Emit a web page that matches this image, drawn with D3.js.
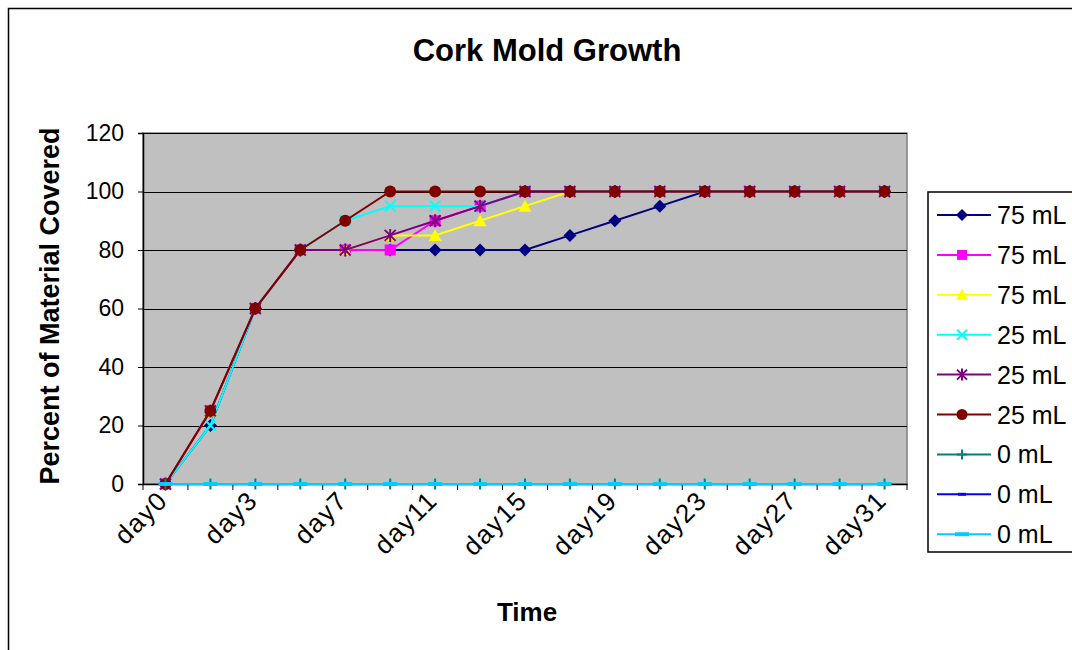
<!DOCTYPE html>
<html><head><meta charset="utf-8">
<script src="https://cdn.jsdelivr.net/npm/d3@7"></script>
<style>body{margin:0;background:#fff;} svg{display:block;font-family:"Liberation Sans",Arial,sans-serif;}</style>
</head><body>
<svg id="c" width="1072" height="650"></svg>
<script>
const categories = ["day0","day1","day3","day5","day7","day9","day11","day13","day15","day17","day19","day21","day23","day25","day27","day29","day31"];
const labelEvery = 2;
const yTicks = [0,20,40,60,80,100,120];
const seriesNames = ["75 mL","75 mL","75 mL","25 mL","25 mL","25 mL","0 mL","0 mL","0 mL"];
const s1 = [0,20,60,80,80,80,80,80,80,85,90,95,100,100,100,100,100];
const s2 = [0,25,60,80,80,80,90,95,100,100,100,100,100,100,100,100,100];
const s3 = [0,25,60,80,80,85,85,90,95,100,100,100,100,100,100,100,100];
const s4 = [0,20,60,80,90,95,95,95,100,100,100,100,100,100,100,100,100];
const s5 = [0,25,60,80,80,85,90,95,100,100,100,100,100,100,100,100,100];
const s6 = [0,25,60,80,90,100,100,100,100,100,100,100,100,100,100,100,100];
const s7 = [0,0,0,0,0,0,0,0,0,0,0,0,0,0,0,0,0];
const s8 = [0,0,0,0,0,0,0,0,0,0,0,0,0,0,0,0,0];
const s9 = [0,0,0,0,0,0,0,0,0,0,0,0,0,0,0,0,0];
const seriesValues = [s1,s2,s3,s4,s5,s6,s7,s8,s9];
const colors = ["#000080","#FF00FF","#FFFF00","#00FFFF","#800080","#800000","#008080","#0000FF","#00CCFF"];
const markers = ["diamond","square","triangle","x","star","circle","plus","dashS","dashL"];

const svg = d3.select("#c");
svg.append("rect").attr("x",8.5).attr("y",8.5).attr("width",1100).attr("height",700)
  .attr("fill","#fff").attr("stroke","#000").attr("stroke-width",1.5);

const L=143, R=907, T=133, B=484;
const x = d3.scaleBand().domain(categories).range([L,R]);
const y = d3.scaleLinear().domain([0,120]).range([B,T]);
const cx = d => x(d)+x.bandwidth()/2;

svg.append("rect").attr("x",L).attr("y",T).attr("width",R-L).attr("height",B-T)
  .attr("fill","#C0C0C0").attr("stroke","#808080").attr("stroke-width",1.5);

svg.append("g").selectAll("line").data(yTicks.filter(v=>v>0)).join("line")
  .attr("x1",L).attr("x2",R).attr("y1",d=>Math.round(y(d))+0.5).attr("y2",d=>Math.round(y(d))+0.5)
  .attr("stroke","#000").attr("stroke-width",1);

const ya = svg.append("g").attr("transform",`translate(${L},0)`)
  .call(d3.axisLeft(y).tickValues(yTicks).tickSize(5).tickPadding(14));
ya.select(".domain").attr("stroke","#000").attr("stroke-width",1.5);
ya.selectAll("text").attr("font-size",23).attr("fill","#000").attr("font-family","Liberation Sans, Arial, sans-serif");

const xa = svg.append("g").attr("transform",`translate(0,${B})`)
  .call(d3.axisBottom(x).tickSize(0).tickFormat(""));
xa.select(".domain").attr("stroke","#000").attr("stroke-width",1.5);
const bounds = categories.map(c=>x(c)).concat([R]);
svg.append("g").selectAll("line").data(bounds).join("line")
  .attr("x1",d=>d).attr("x2",d=>d).attr("y1",B).attr("y2",B+6).attr("stroke","#000");
svg.append("g").selectAll("text").data(categories.filter((c,i)=>i%labelEvery===0)).join("text")
  .attr("transform",d=>`translate(${cx(d)-9},${B+5}) rotate(-45)`)
  .attr("text-anchor","end").attr("dy","0.7em").attr("font-size",26).attr("letter-spacing",1.5).attr("fill","#000").text(d=>d);

function drawMarker(g, type, color, sz){
  const s = sz/2;
  if(type==="diamond") g.append("path").attr("d",`M0,${-s-1}L${s+1},0L0,${s+1}L${-s-1},0Z`).attr("fill",color);
  else if(type==="square") g.append("rect").attr("x",-s).attr("y",-s).attr("width",2*s).attr("height",2*s).attr("fill",color);
  else if(type==="triangle") g.append("path").attr("d",`M0,${-s-1}L${s+1},${s}L${-s-1},${s}Z`).attr("fill",color);
  else if(type==="circle") g.append("circle").attr("r",s+0.5).attr("fill",color);
  else if(type==="x") g.append("path").attr("d",`M${-s},${-s}L${s},${s}M${-s},${s}L${s},${-s}`).attr("stroke",color).attr("stroke-width",2);
  else if(type==="star") g.append("path").attr("d",`M${-s},${-s}L${s},${s}M${-s},${s}L${s},${-s}M0,${-s-1}L0,${s+1}`).attr("stroke",color).attr("stroke-width",2);
  else if(type==="plus") g.append("path").attr("d",`M${-s},0L${s},0M0,${-s}L0,${s}`).attr("stroke",color).attr("stroke-width",2);
  else if(type==="dashS") g.append("rect").attr("x",-4).attr("y",-1.5).attr("width",8).attr("height",3).attr("fill",color);
  else if(type==="dashL") g.append("rect").attr("x",-7).attr("y",-2).attr("width",14).attr("height",4).attr("fill",color);
}

const line = d3.line().x((d,i)=>cx(categories[i])).y(d=>y(d));
seriesValues.forEach((vals,si)=>{
  const g = svg.append("g");
  g.append("path").attr("d",line(vals)).attr("fill","none").attr("stroke",colors[si]).attr("stroke-width",2);
  vals.forEach((v,i)=>{
    const mg = g.append("g").attr("transform",`translate(${cx(categories[i])},${y(v)})`);
    drawMarker(mg, markers[si], colors[si], 11);
  });
});

svg.append("text").attr("x",547).attr("y",61).attr("text-anchor","middle").attr("font-size",31).attr("font-weight","bold").text("Cork Mold Growth");
svg.append("text").attr("transform",`translate(59,306) rotate(-90)`).attr("text-anchor","middle").attr("font-size",27).attr("font-weight","bold").text("Percent of Material Covered");
svg.append("text").attr("x",527).attr("y",621).attr("text-anchor","middle").attr("font-size",26).attr("font-weight","bold").text("Time");

const lg = svg.append("g");
lg.append("rect").attr("x",928).attr("y",192).attr("width",200).attr("height",360).attr("fill","#fff").attr("stroke","#000").attr("stroke-width",1.5);
seriesNames.forEach((n,i)=>{
  const yy = 215 + i*39.9;
  const it = lg.append("g").attr("transform",`translate(0,${yy})`);
  it.append("line").attr("x1",937).attr("x2",991).attr("y1",0).attr("y2",0).attr("stroke",colors[i]).attr("stroke-width",2);
  const mg = it.append("g").attr("transform",`translate(962,0)`);
  drawMarker(mg, markers[i], colors[i], 10);
  it.append("text").attr("x",997).attr("y",0).attr("dy","0.36em").attr("font-size",25).text(n);
});
</script>
</body></html>
